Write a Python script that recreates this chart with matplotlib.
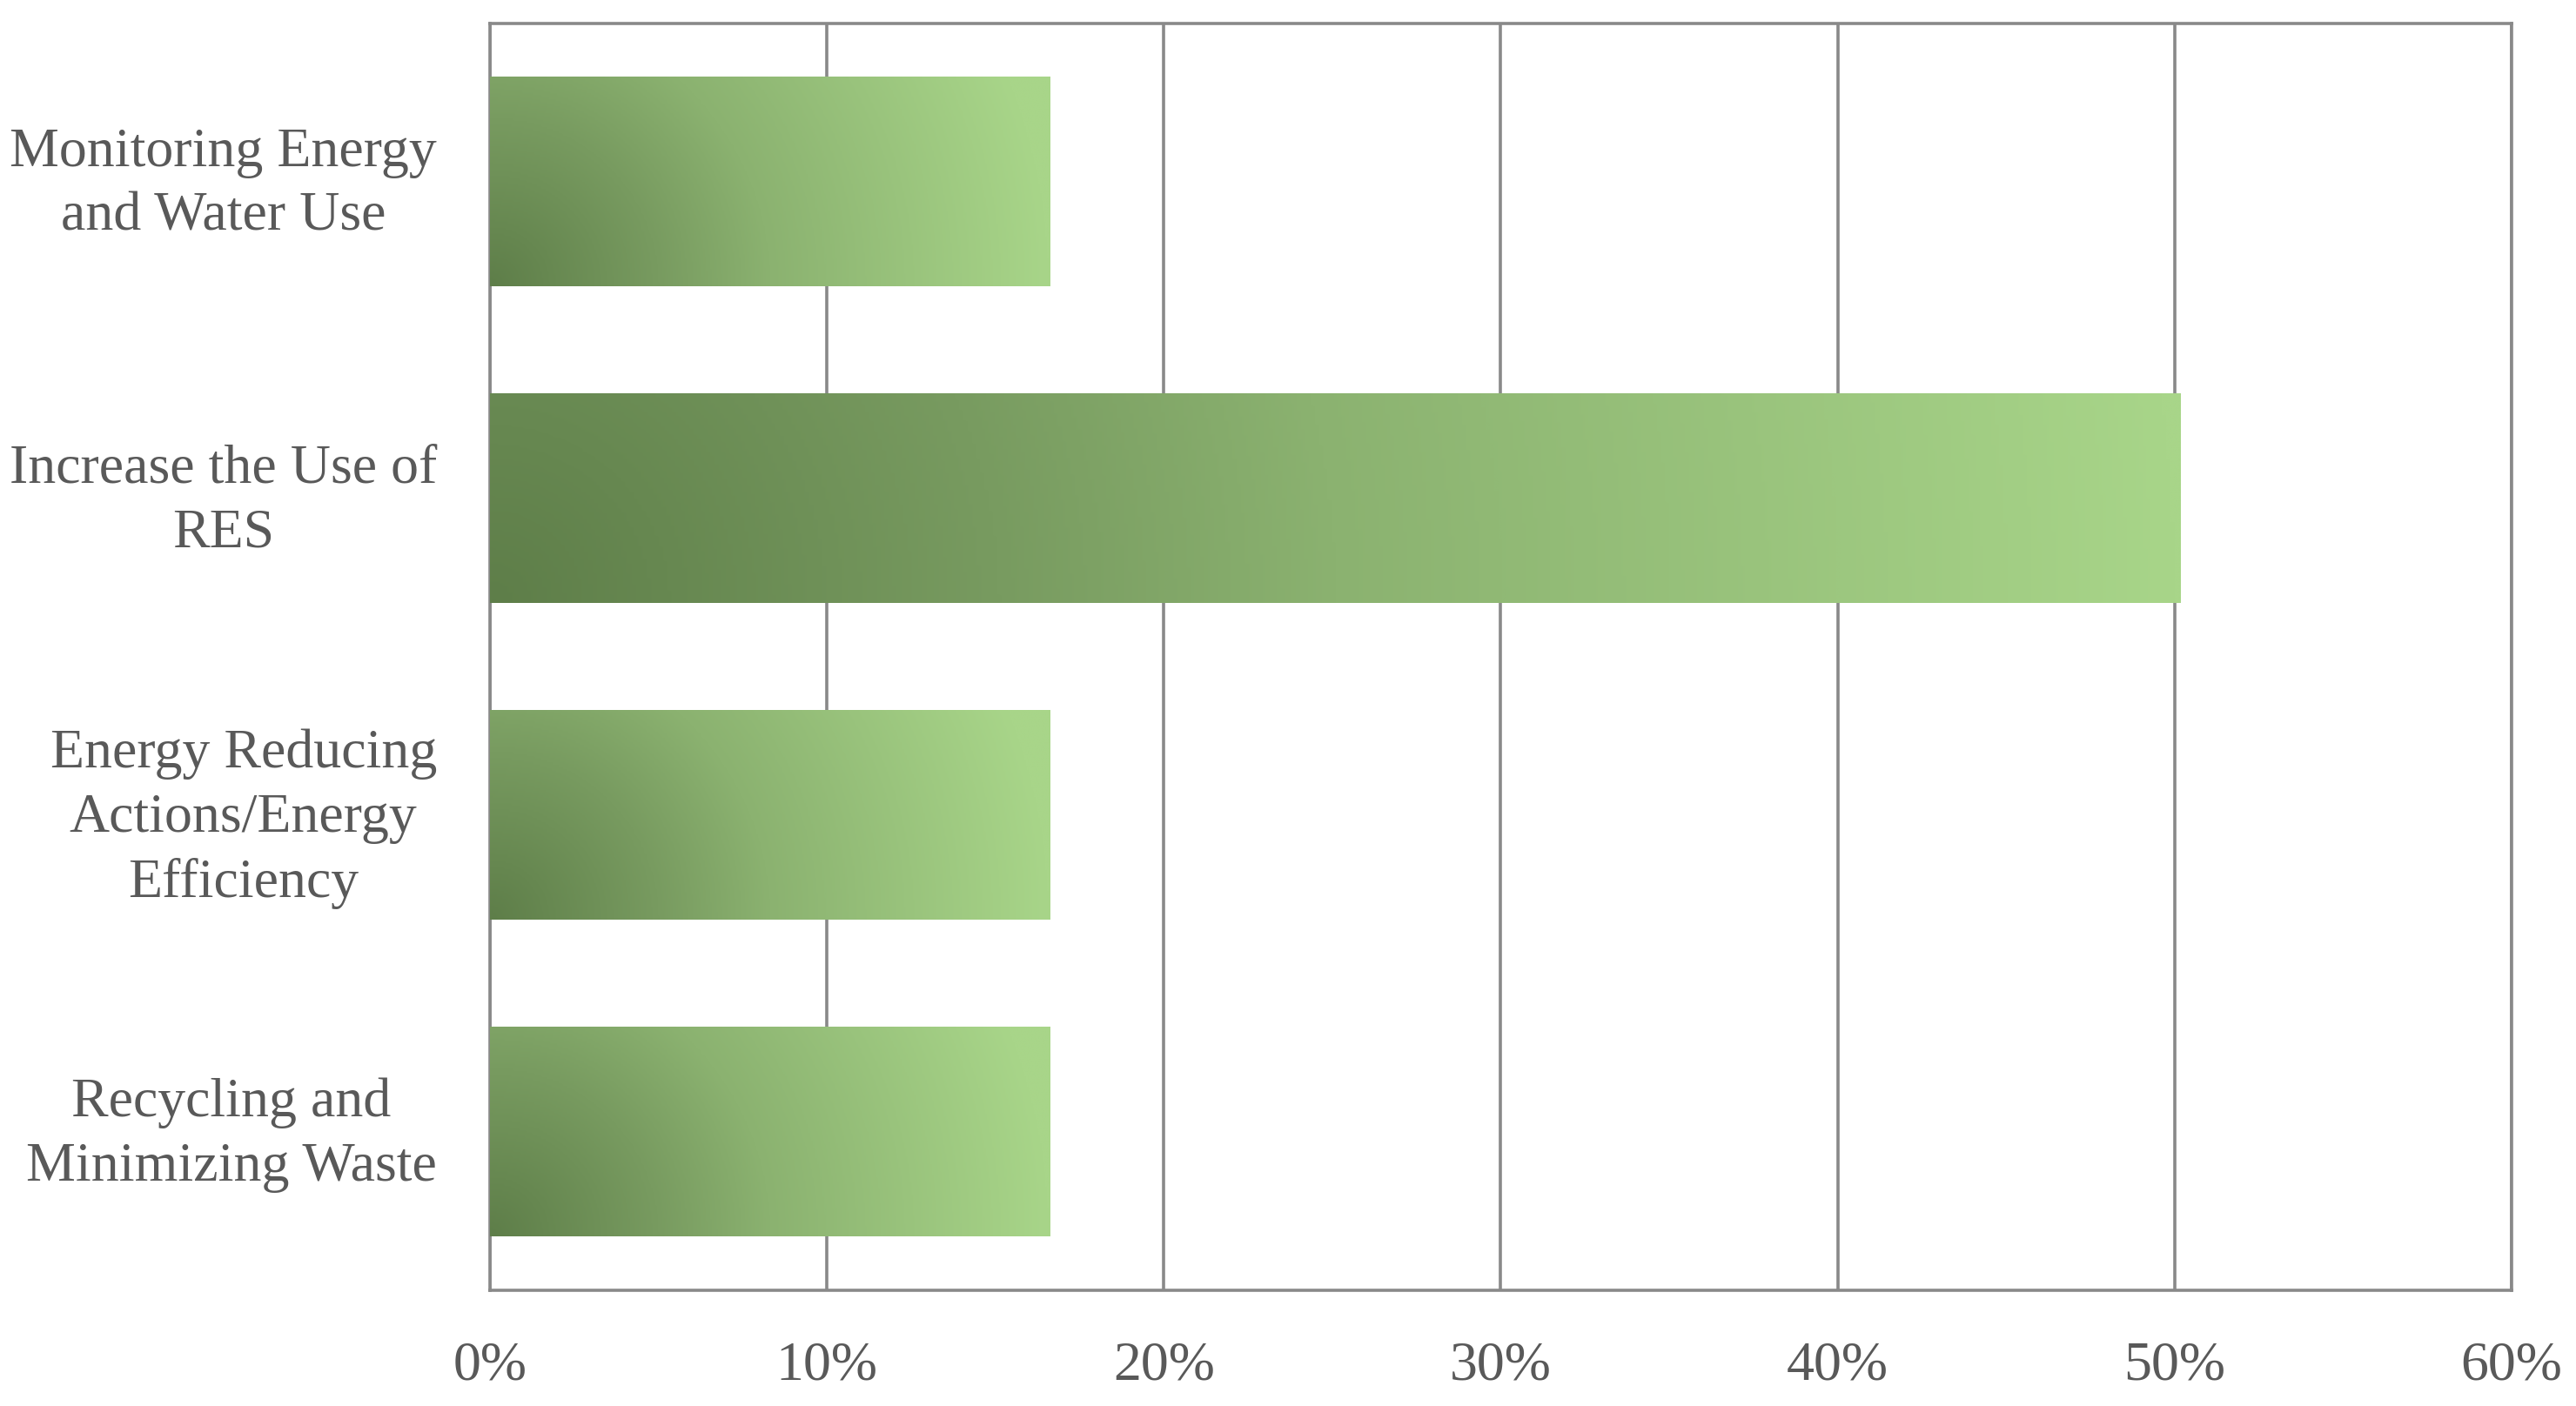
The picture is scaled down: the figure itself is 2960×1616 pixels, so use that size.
import matplotlib
matplotlib.use("Agg")
import matplotlib.pyplot as plt
import numpy as np
from matplotlib.colors import LinearSegmentedColormap
from matplotlib.ticker import FuncFormatter
from matplotlib.transforms import ScaledTranslation

categories = ["Recycling and\nMinimizing Waste",
              "Energy Reducing\nActions/Energy\nEfficiency",
              "Increase the Use of\nRES",
              "Monitoring Energy\nand Water Use"]
values = [0.1662, 0.1662, 0.5018, 0.1662]
xticks = [0, 0.1, 0.2, 0.3, 0.4, 0.5, 0.6]

plt.rcParams['font.family'] = ['Liberation Serif', 'DejaVu Serif']
grey = "#898989"
text_col = "#595959"
green = LinearSegmentedColormap.from_list(
    "green", [(0, "#5e7e49"), (0.3, "#789b60"), (0.5, "#8bb270"), (1, "#a8d589")])


def bar_gradient(ax, bar):
    # radial fade from the bottom-left corner of each bar
    x, y = bar.get_x(), bar.get_y()
    w, h = bar.get_width(), bar.get_height()
    p0 = ax.transData.transform((x, y))
    p1 = ax.transData.transform((x + w, y + h))
    ratio = (p1[1] - p0[1]) / (p1[0] - p0[0])
    xf = np.linspace(0, 1, 400)[None, :]
    yf = np.linspace(0, 1, 100)[:, None]
    t = np.clip(np.sqrt(xf ** 2 + (yf * ratio) ** 2), 0, 1)
    ax.imshow(green(t), extent=[x, x + w, y, y + h], origin="lower",
              aspect="auto", interpolation="bilinear", zorder=3)


fig = plt.figure(figsize=(14.8, 8.08), dpi=200)
ax = fig.add_axes([0.1902, 0.0823, 0.975 - 0.1902, 0.9833 - 0.0823])

bars = ax.barh(range(len(categories)), values, height=0.66,
               color="none", edgecolor="none", zorder=3)
ax.set_xlim(0, 0.6)
ax.set_ylim(-0.5, len(categories) - 0.5)
for b in bars:
    bar_gradient(ax, b)
ax.set_xlim(0, 0.6)
ax.set_ylim(-0.5, len(categories) - 0.5)

ax.set_xticks(xticks)
ax.xaxis.set_major_formatter(FuncFormatter(lambda v, p: f"{v * 100:.0f}%"))
ax.set_yticks(range(len(categories)))
ax.set_yticklabels(categories, multialignment="center", linespacing=1.36)

ax.grid(axis="x", color=grey, linewidth=1.3, zorder=0)
ax.set_axisbelow(True)
for s in ax.spines.values():
    s.set_color(grey)
    s.set_linewidth(1.3)
ax.tick_params(axis="both", length=0, labelsize=23, labelcolor=text_col)
ax.tick_params(axis="x", pad=21)
ax.tick_params(axis="y", pad=22)

shift = ScaledTranslation(0, 4 / 72, fig.dpi_scale_trans)
for lab in ax.get_yticklabels():
    lab.set_transform(lab.get_transform() + shift)

fig.savefig("out.png", dpi=200)
